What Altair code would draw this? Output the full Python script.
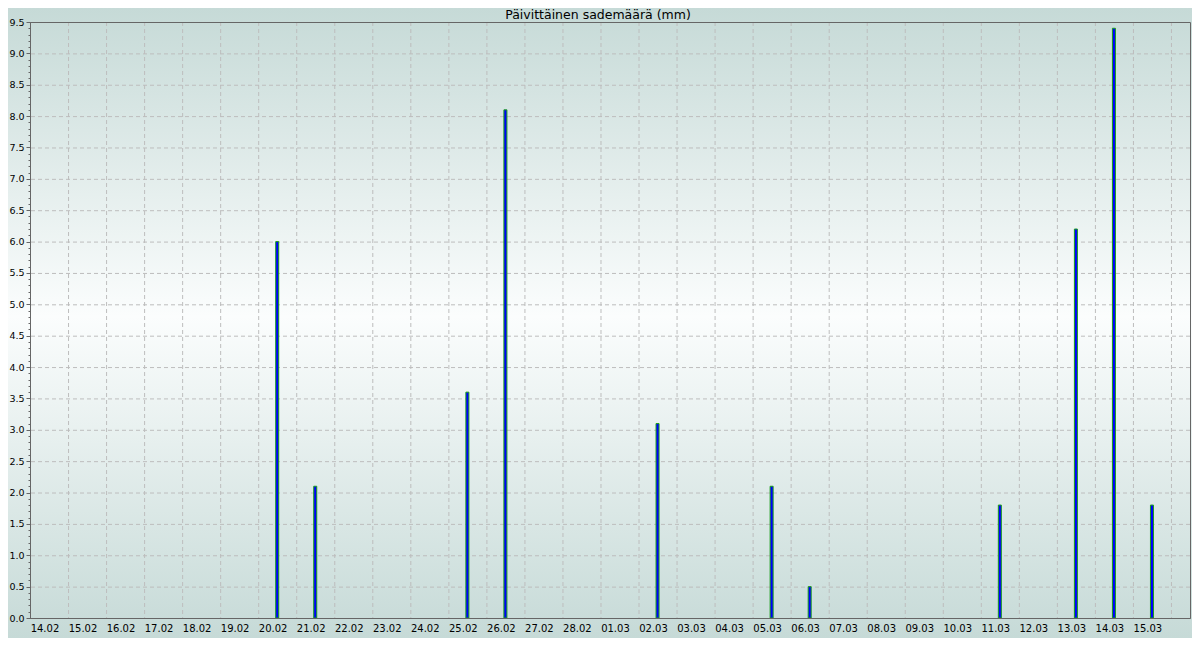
import altair as alt
import pandas as pd

# ---- data ----
days = ["14.02", "15.02", "16.02", "17.02", "18.02", "19.02", "20.02", "21.02",
        "22.02", "23.02", "24.02", "25.02", "26.02", "27.02", "28.02",
        "01.03", "02.03", "03.03", "04.03", "05.03", "06.03", "07.03", "08.03",
        "09.03", "10.03", "11.03", "12.03", "13.03", "14.03", "15.03"]
rain = [0, 0, 0, 0, 0, 0, 6.0, 2.1, 0, 0, 0, 3.6, 8.1, 0, 0,
        0, 3.1, 0, 0, 2.1, 0.5, 0, 0, 0, 0, 1.8, 0, 6.2, 9.4, 1.8]
y_major = [0.0, 0.5, 1.0, 1.5, 2.0, 2.5, 3.0, 3.5, 4.0, 4.5, 5.0, 5.5, 6.0, 6.5,
           7.0, 7.5, 8.0, 8.5, 9.0, 9.5]
y_minor = [round(k * 0.1, 1) for k in range(96)]
x_grid = list(range(1, len(days) + 1))
x_label_pos = [round(i + 0.38, 2) for i in range(len(days))]
chart_title = "Päivittäinen sademäärä (mm)"

W, H = 1160, 596
FONT = "DejaVu Sans"
AX = "#666666"
GRID = "#bdbdbd"

x_scale = alt.Scale(domain=[0, len(days) + 0.5], nice=False, zero=False, padding=0)
y_scale = alt.Scale(domain=[0, 9.5], nice=False, zero=True, padding=0)

df = pd.DataFrame({"i": list(range(len(days))), "day": days, "rain": rain})

label_expr = "[%s][floor(datum.value)]" % ",".join("'%s'" % d for d in days)

x_axis = alt.Axis(values=x_label_pos, labelExpr=label_expr, ticks=False, grid=False,
                  domain=True, domainColor=AX, labelFontSize=10, labelFont=FONT,
                  labelColor="#000000", labelPadding=5, labelAlign="center",
                  labelFlush=False, labelOverlap=False, title=None, zindex=1)

grad = alt.LinearGradient(
    gradient="linear", x1=0, y1=0, x2=0, y2=1,
    stops=[alt.GradientStop(color="#c6dad7", offset=0),
           alt.GradientStop(color="#fbfdfd", offset=0.49),
           alt.GradientStop(color="#c6dad7", offset=1)])

bg = alt.Chart(pd.DataFrame({"k": [0]})).mark_rect(fill=grad).encode(
    x=alt.value(-22), x2=alt.value(W + 2), y=alt.value(-14), y2=alt.value(H + 20))

vgrid = alt.Chart(pd.DataFrame({"gx": x_grid})).mark_rule(
    color=GRID, strokeDash=[4, 3], strokeWidth=1, xOffset=0.5).encode(
    x=alt.X("gx:Q", scale=x_scale, axis=x_axis))

hgrid = alt.Chart(pd.DataFrame({"gy": y_major[1:]})).mark_rule(
    color=GRID, strokeDash=[4, 3], strokeWidth=1, yOffset=0.5).encode(
    y=alt.Y("gy:Q", scale=y_scale,
            axis=alt.Axis(orient="left", values=y_minor, tickSize=2, labels=False,
                          domain=False, grid=False, ticks=True, tickColor=AX,
                          title=None, zindex=1)))

bars = alt.Chart(df).transform_filter("datum.rain > 0").transform_calculate(
    pos="datum.i + 0.5").mark_bar(
    size=3, fill="#0000ff", stroke="#1a9e1a", strokeWidth=1, orient="vertical").encode(
    x=alt.X("pos:Q", scale=x_scale, axis=x_axis),
    y=alt.Y("rain:Q", scale=y_scale,
            axis=alt.Axis(orient="left", values=y_major, format=".1f", tickSize=4,
                          tickColor=AX, domain=True, domainColor=AX, grid=False,
                          labelFontSize=9.5, labelFont=FONT, labelColor="#000000",
                          labelPadding=2, title=None, zindex=1)))

border = alt.Chart(pd.DataFrame({"k": [0]})).mark_rect(
    filled=False, stroke=AX, strokeWidth=1).encode(
    x=alt.value(0.5), x2=alt.value(W + 0.5), y=alt.value(0.5), y2=alt.value(H + 0.5))

title_text = alt.Chart(pd.DataFrame({"t": [chart_title]})).mark_text(
    font=FONT, fontSize=12.5, color="#000000", align="center",
    baseline="alphabetic").encode(
    text="t:N", x=alt.value(W / 2 - 12), y=alt.value(-3.5))

chart = alt.layer(bg, vgrid, hgrid, bars, border, title_text).resolve_axis(
    y="independent").properties(
    width=W, height=H,
    padding={"left": 22, "top": 14, "right": 2, "bottom": 20},
    autosize=alt.AutoSizeParams(type="none"),
    background="#c9dcd9",
).configure_view(stroke=None)

chart.save("out.html", embed_options={"renderer": "svg", "actions": False})
